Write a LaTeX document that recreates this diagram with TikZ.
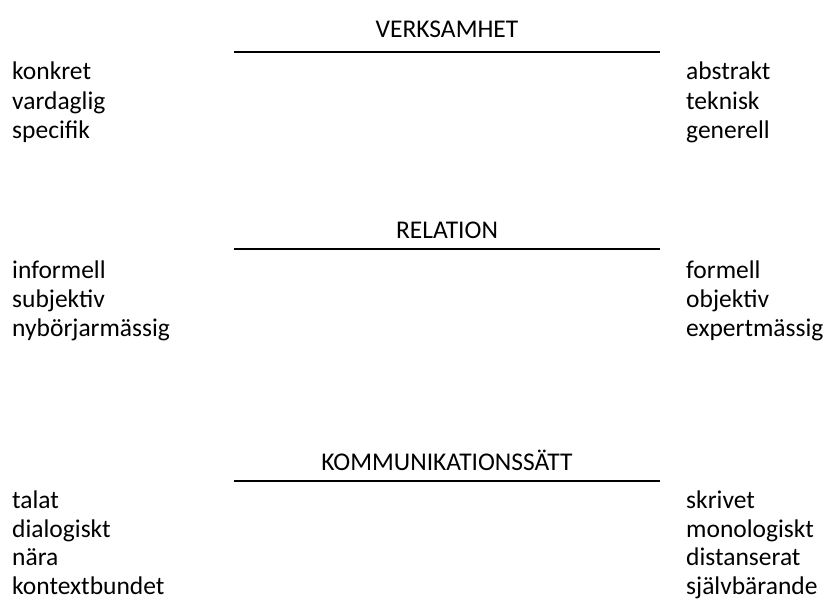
\documentclass[tikz,border=0pt]{standalone}
\usepackage{fontspec}
\setmainfont{Carlito}
\begin{document}
\begin{tikzpicture}[x=1pt,y=-1pt,
  word/.style={inner sep=0pt,font=\fontsize{25.5}{30}\selectfont},
  lword/.style={word,anchor=base west},
  rword/.style={word,anchor=base west},
  head/.style={word,anchor=base},
  rule/.style={line width=2pt}]
\useasboundingbox (0,0) rectangle (830,607);

% VERKSAMHET
\node[head] (t1) at (447,38) {VERKSAMHET};
\coordinate (a1) at (234,52);
\coordinate (b1) at (660,52);
\draw[rule] (a1) -- (b1);
\node[lword] (l11) at (12,80)  {konkret};
\node[lword] (l12) at (12,110) {vardaglig};
\node[lword] (l13) at (12,139) {specifik};
\node[rword] (r11) at (686,80)  {abstrakt};
\node[rword] (r12) at (686,110) {teknisk};
\node[rword] (r13) at (686,139) {generell};

% RELATION
\node[head] (t2) at (447,238) {RELATION};
\coordinate (a2) at (234,249);
\coordinate (b2) at (660,249);
\draw[rule] (a2) -- (b2);
\node[lword] (l21) at (12,278) {informell};
\node[lword] (l22) at (12,307) {subjektiv};
\node[lword] (l23) at (12,336) {nybörjarmässig};
\node[rword] (r21) at (686,278) {formell};
\node[rword] (r22) at (686,307) {objektiv};
\node[rword] (r23) at (686,336) {expertmässig};

% KOMMUNIKATIONSSÄTT
\node[head] (t3) at (447,470) {KOMMUNIKATIONSSÄTT};
\coordinate (a3) at (234,481);
\coordinate (b3) at (660,481);
\draw[rule] (a3) -- (b3);
\node[lword] (l31) at (12,508) {talat};
\node[lword] (l32) at (12,537) {dialogiskt};
\node[lword] (l33) at (12,565) {nära};
\node[lword] (l34) at (12,594) {kontextbundet};
\node[rword] (r31) at (686,508) {skrivet};
\node[rword] (r32) at (686,537) {monologiskt};
\node[rword] (r33) at (686,565) {distanserat};
\node[rword] (r34) at (686,594) {självbärande};
\end{tikzpicture}
\end{document}
